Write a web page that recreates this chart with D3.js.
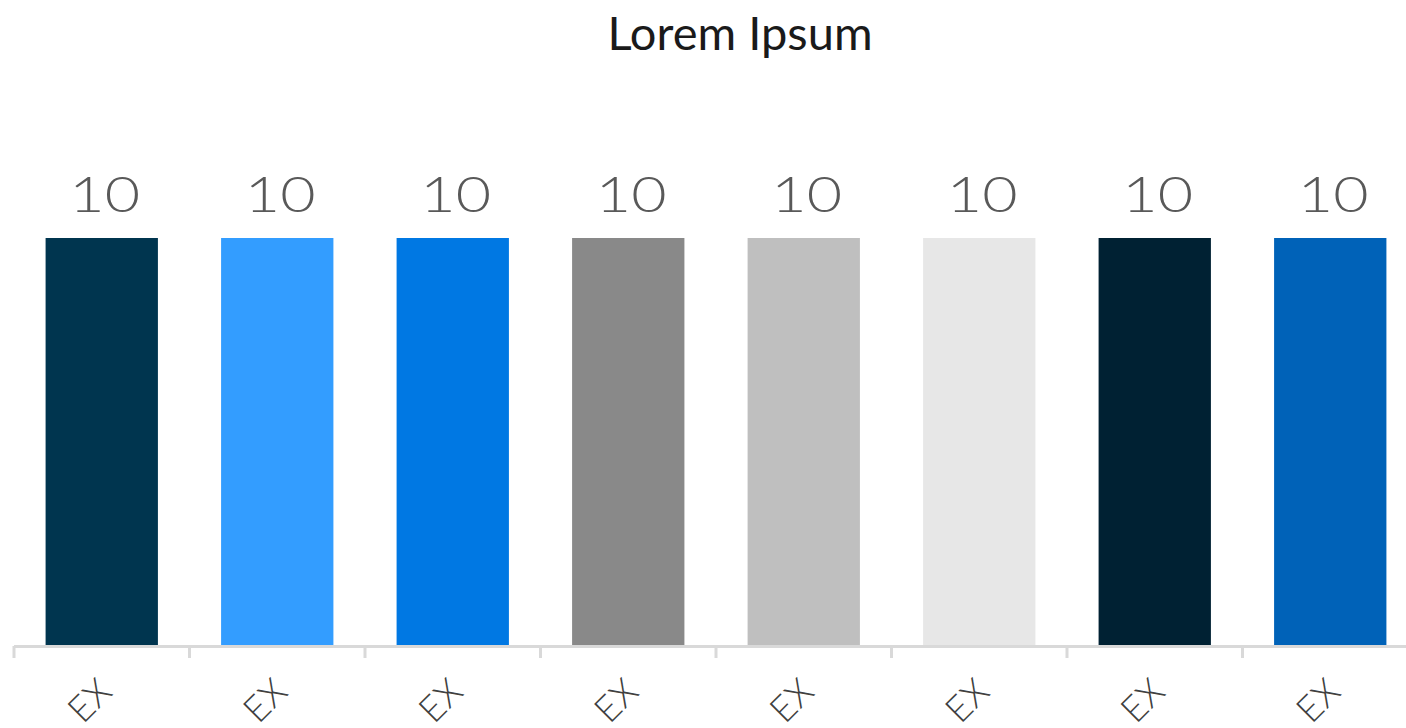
<!DOCTYPE html>
<html>
<head>
<meta charset="utf-8">
<script src="https://cdn.jsdelivr.net/npm/d3@7"></script>
<style>
  body { margin: 0; background: #fff; }
  svg { display: block; }
</style>
</head>
<body>
<svg></svg>
<script>
const categories = ["EX", "EX", "EX", "EX", "EX", "EX", "EX", "EX"];
const values = [10, 10, 10, 10, 10, 10, 10, 10];
const colors = ["#00354f", "#339dff", "#0078e3", "#898989", "#bfbfbf", "#e7e7e7", "#002133", "#0062b8"];
const title = "Lorem Ipsum";

const width = 1406;
const height = 728;
let svg = d3.select("svg").attr("width", width).attr("height", height);

// band spans past the right edge, like the original
let xScale = d3.scaleBand().domain(d3.range(categories.length))
  .range([14, 14 + 175.5 * categories.length]).paddingInner(0.36).paddingOuter(0.18);
let yScale = d3.scaleLinear().domain([0, 10]).range([645, 238]);

svg.append("text")
  .attr("x", 740).attr("y", 50)
  .attr("text-anchor", "middle")
  .attr("font-family", "Lato")
  .attr("font-size", 47)
  .attr("fill", "#1a1a1a")
  .text(title);

svg.selectAll("rect.bar").data(values).enter().append("rect")
  .attr("class", "bar")
  .attr("x", (d, i) => xScale(i))
  .attr("width", xScale.bandwidth())
  .attr("y", d => yScale(d))
  .attr("height", d => yScale(0) - yScale(d))
  .attr("fill", (d, i) => colors[i]);

svg.selectAll("text.val").data(values).enter().append("text")
  .attr("class", "val")
  .attr("transform", (d, i) => `translate(${xScale(i) + xScale.bandwidth() / 2 + 3}, ${yScale(d) - 26}) scale(1.22, 1)`)
  .attr("text-anchor", "middle")
  .attr("font-family", "Lato")
  .attr("font-weight", 300)
  .attr("font-size", 50)
  .attr("fill", "#595959")
  .text(d => d);

// axis: ticks at band boundaries
let axisG = svg.append("g").attr("stroke", "#d9d9d9").attr("stroke-width", 3);
let step = xScale.step();
let x0 = xScale.range()[0];
axisG.append("line")
  .attr("x1", x0).attr("x2", xScale.range()[1])
  .attr("y1", 646.5).attr("y2", 646.5);
axisG.selectAll("line.tick").data(d3.range(categories.length + 1)).enter().append("line")
  .attr("class", "tick")
  .attr("x1", i => x0 + i * step).attr("x2", i => x0 + i * step)
  .attr("y1", 646).attr("y2", 658);

svg.selectAll("text.cat").data(categories).enter().append("text")
  .attr("class", "cat")
  .attr("transform", (d, i) => `translate(${xScale(i) + xScale.bandwidth() / 2 + 12}, 694) rotate(-45)`)
  .attr("text-anchor", "end")
  .attr("font-family", "Lato")
  .attr("font-weight", 300)
  .attr("font-size", 36)
  .attr("fill", "#404040")
  .text(d => d);
</script>
</body>
</html>
